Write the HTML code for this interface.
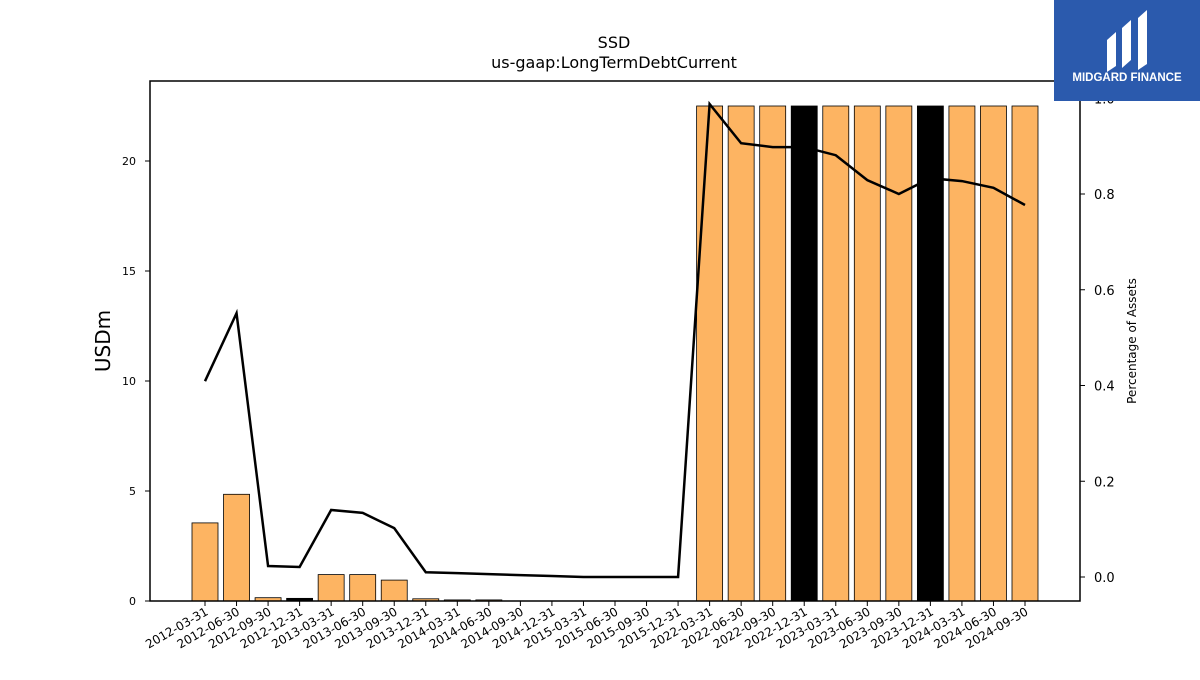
<!DOCTYPE html>
<html><head><meta charset="utf-8"><style>
body{margin:0;background:#fff;font-family:"Liberation Sans","DejaVu Sans",sans-serif;}
svg text{font-family:"DejaVu Sans","Liberation Sans",sans-serif;}
</style></head><body>
<svg id="chart" width="1200" height="675" xmlns="http://www.w3.org/2000/svg">
<text x="614" y="48" font-size="16" text-anchor="middle">SSD</text>
<text x="614" y="68" font-size="16" text-anchor="middle">us-gaap:LongTermDebtCurrent</text>
<g id="bars"></g>
<g id="line"></g>
<rect x="150" y="81" width="930" height="520" fill="none" stroke="#000" stroke-width="1.5"/>
<g id="axes"></g>
<text transform="translate(110,341) rotate(-90)" font-size="20" text-anchor="middle">USDm</text>
<text transform="translate(1136,341) rotate(-90)" font-size="12" text-anchor="middle">Percentage of Assets</text>
<g>
<rect x="1054" y="0" width="146" height="101" fill="#2b5aad"/>
<path d="M1107 40 L1116 32 L1116 66 L1107 72 Z" fill="#fff"/>
<path d="M1122 28 L1131 20 L1131 60 L1122 68 Z M1124 44 L1131 40 L1131 56 Z" fill="#fff"/>
<path d="M1138 18 L1147 10 L1147 64 L1138 70 Z" fill="#fff"/>
<text x="1127" y="81" font-size="11.5" font-weight="bold" fill="#fff" text-anchor="middle" style="font-family:'Liberation Sans',sans-serif">MIDGARD FINANCE</text>
</g>
</svg>
<script>
const categories=["2012-03-31","2012-06-30","2012-09-30","2012-12-31","2013-03-31","2013-06-30","2013-09-30","2013-12-31","2014-03-31","2014-06-30","2014-09-30","2014-12-31","2015-03-31","2015-06-30","2015-09-30","2015-12-31","2022-03-31","2022-06-30","2022-09-30","2022-12-31","2023-03-31","2023-06-30","2023-09-30","2023-12-31","2024-03-31","2024-06-30","2024-09-30"];
const debtValues=[3.55,4.85,0.15,0.12,1.2,1.2,0.95,0.1,0.05,0.05,0,0,0,0,0,0,22.5,22.5,22.5,22.5,22.5,22.5,22.5,22.5,22.5,22.5,22.5];
const highlighted=[3,19,23];
const pctValues=[0.409,0.551,0.023,0.021,0.14,0.134,0.102,0.010,0.008,0.006,0.004,0.002,0,0,0,0,0.988,0.906,0.898,0.898,0.881,0.829,0.80,0.833,0.827,0.813,0.777];
const leftTicks=[0,5,10,15,20];
const rightTicks=[0.0,0.2,0.4,0.6,0.8,1.0];
const NS="http://www.w3.org/2000/svg";
const xS=i=>205+i*(1025-205)/(categories.length-1);
const yL=v=>601-v*22;
const yR=v=>577-v*478.75;
function mk(tag,attrs,parent){const e=document.createElementNS(NS,tag);for(const k in attrs)e.setAttribute(k,attrs[k]);parent.appendChild(e);return e;}
const bars=document.getElementById('bars'),line=document.getElementById('line'),axes=document.getElementById('axes');
debtValues.forEach((v,i)=>{const h=yL(0)-yL(v);if(h<=0)return;
const r=mk('rect',{x:xS(i)-13,y:yL(v),width:26,height:h,fill:highlighted.includes(i)?'#000':'#fdb462',stroke:'#000','stroke-width':0.8},bars);

});
const p=mk('polyline',{points:pctValues.map((v,i)=>xS(i)+','+yR(v)).join(' '),fill:'none',stroke:'#000','stroke-width':2.5},line);


categories.forEach((c,i)=>{const x=xS(i);
mk('line',{x1:x,x2:x,y1:601,y2:606,stroke:'#000'},axes);
const t=mk('text',{x:0,y:0,'font-size':12,'text-anchor':'end',transform:`translate(${x+4},${614}) rotate(-30)`},axes);
t.textContent=c;

});
leftTicks.forEach(v=>{const y=yL(v);
mk('line',{x1:145,x2:150,y1:y,y2:y,stroke:'#000'},axes);
const t=mk('text',{x:136,y:y+4,'font-size':11,'text-anchor':'end'},axes);
t.textContent=v;

});
rightTicks.forEach(v=>{const y=yR(v);
mk('line',{x1:1080,x2:1085,y1:y,y2:y,stroke:'#000'},axes);
const t=mk('text',{x:1094,y:y+5,'font-size':13},axes);
t.textContent=v.toFixed(1);

});
</script>
</body></html>
